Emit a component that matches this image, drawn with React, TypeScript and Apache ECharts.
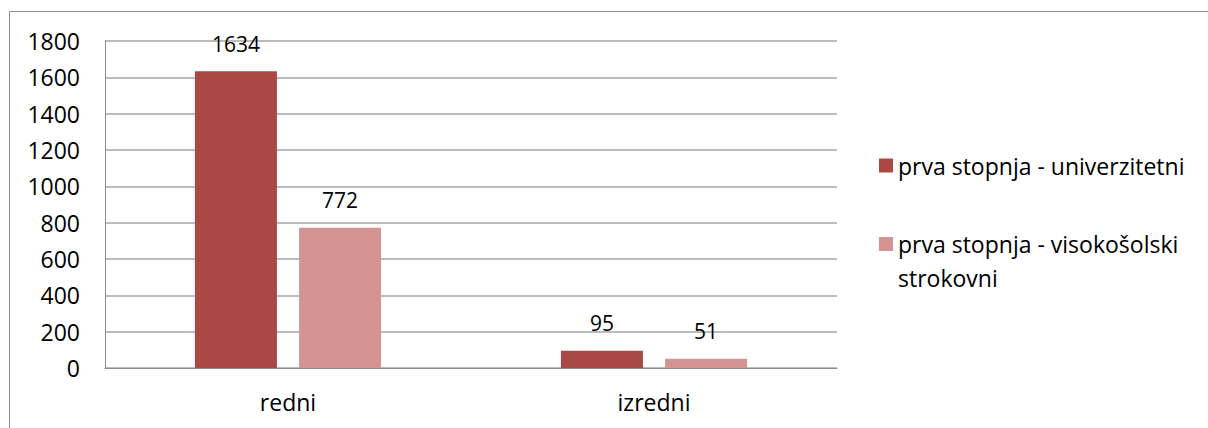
import React, { useEffect, useRef } from "react";
import * as echarts from "echarts";

const categories = ["redni", "izredni"];
const seriesNames = ["prva stopnja - univerzitetni", "prva stopnja - visokošolski strokovni"];
const univerzitetni = [1634, 95];
const visokosolski = [772, 51];
const yTicks = [0, 200, 400, 600, 800, 1000, 1200, 1400, 1600, 1800];

const FONT = "'Open Sans', 'Noto Sans', sans-serif";
const DARK = "#AA4846";
const LIGHT = "#D49494";

export default function App() {
  const ref = useRef<HTMLDivElement>(null);
  useEffect(() => {
    if (!ref.current) return;
    const chart = echarts.init(ref.current, null, { renderer: "svg" });
    const labelCfg = {
      show: true,
      position: "top",
      distance: 17,
      color: "#000",
      fontFamily: FONT,
      fontSize: 21,
    };
    chart.setOption({
      animation: false,
      backgroundColor: "#fff",
      graphic: [
        {
          type: "rect",
          shape: { x: 9.5, y: 11.5, width: 1400, height: 600 },
          style: { fill: "none", stroke: "#8e8e8e", lineWidth: 1 },
          silent: true,
        },
      ],
      grid: { left: 105, right: 371, top: 41, bottom: 60, containLabel: false },
      legend: [
        {
          data: [seriesNames[0]],
          orient: "vertical",
          left: 879,
          top: 148,
          padding: 0,
          itemWidth: 14,
          itemHeight: 14,
          itemGap: 10,
          icon: "rect",
          textStyle: { fontFamily: FONT, fontSize: 23, color: "#000", lineHeight: 35 },
        },
        {
          data: [seriesNames[1]],
          orient: "vertical",
          left: 879,
          top: 193,
          padding: 0,
          itemWidth: 14,
          itemHeight: 14,
          icon: "rect",
          formatter: () => "\nprva stopnja - visokošolski\nstrokovni",
          textStyle: { fontFamily: FONT, fontSize: 23, color: "#000", lineHeight: 34 },
        },
      ],
      xAxis: {
        type: "category",
        data: categories,
        axisLine: { show: true, lineStyle: { color: "#8e8e8e", width: 1 } },
        axisTick: { show: false },
        axisLabel: { color: "#000", fontFamily: FONT, fontSize: 23, margin: 22 },
      },
      yAxis: {
        type: "value",
        min: yTicks[0],
        max: yTicks[yTicks.length - 1],
        interval: 200,
        axisLine: { show: true, lineStyle: { color: "#8e8e8e", width: 1 } },
        axisTick: { show: false },
        splitLine: { show: true, lineStyle: { color: "#a6a6a6", width: 1.5 } },
        axisLabel: {
          color: "#000",
          fontFamily: FONT,
          fontSize: 23,
          margin: 25,
          formatter: (v: number) => String(v),
        },
      },
      series: [
        {
          name: seriesNames[0],
          type: "bar",
          data: univerzitetni,
          barWidth: 82,
          barGap: "27%",
          itemStyle: { color: DARK },
          label: labelCfg,
        },
        {
          name: seriesNames[1],
          type: "bar",
          data: visokosolski,
          barWidth: 82,
          barGap: "27%",
          itemStyle: { color: LIGHT },
          label: labelCfg,
        },
      ],
    });
    return () => chart.dispose();
  }, []);
  return (
    <div
      ref={ref}
      style={{ position: "fixed", left: 0, top: 0, width: 1208, height: 428 }}
    />
  );
}
